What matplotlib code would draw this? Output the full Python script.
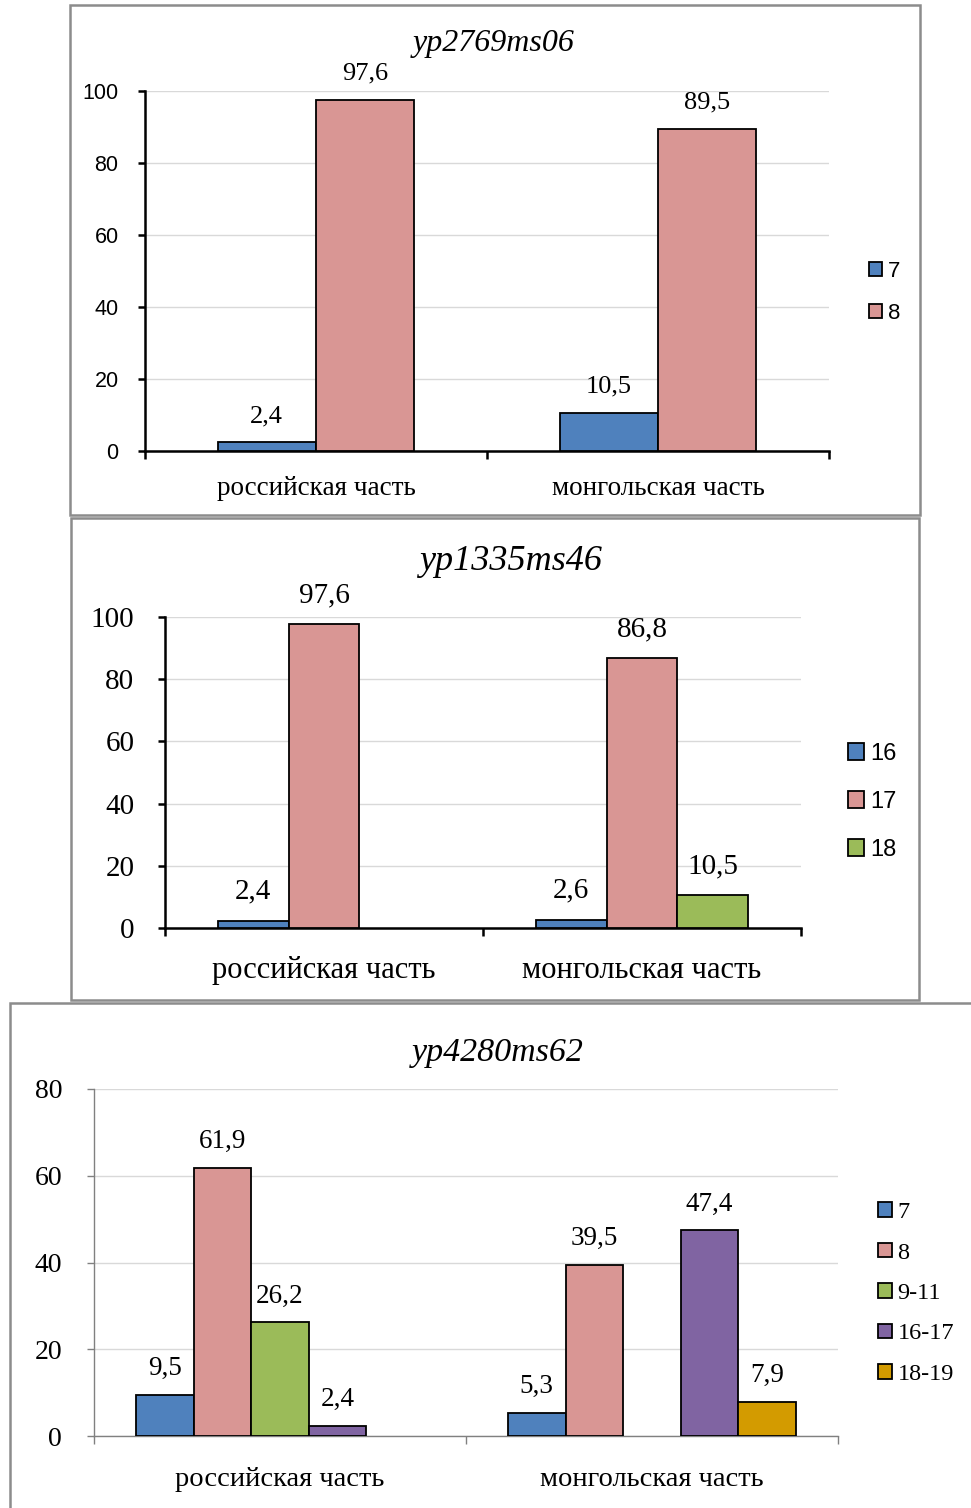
import matplotlib.pyplot as plt
import numpy as np
from matplotlib.patches import Rectangle

W, H = 971, 1508

categories = ["российская часть", "монгольская часть"]

# yp2769ms06
p1_title = "yp2769ms06"
p1_series = ["7", "8"]
p1_values = [[2.4, 10.5], [97.6, 89.5]]

# yp1335ms46
p2_title = "yp1335ms46"
p2_series = ["16", "17", "18"]
p2_values = [[2.4, 2.6], [97.6, 86.8], [np.nan, 10.5]]

# yp4280ms62
p3_title = "yp4280ms62"
p3_series = ["7", "8", "9-11", "16-17", "18-19"]
p3_values = [[9.5, 5.3], [61.9, 39.5], [26.2, np.nan], [2.4, 47.4], [np.nan, 7.9]]

colors = ["#4F81BD", "#D99694", "#9BBB59", "#8064A2", "#D39B00"]
SERIF = ["Liberation Serif", "DejaVu Serif"]
SANS = ["Liberation Sans", "DejaVu Sans"]


def box(x0, y0, x1, y1):
    # pixel box (top-left origin) -> figure coords
    return [x0 / W, 1 - y1 / H, (x1 - x0) / W, (y1 - y0) / H]


def frame(fig, x0, y0, x1, y1):
    fig.add_artist(Rectangle((x0 / W, 1 - y1 / H), (x1 - x0) / W, (y1 - y0) / H,
                             transform=fig.transFigure, fill=False,
                             edgecolor="#8c8c8c", linewidth=1.8))


def fmt(v):
    return f"{v:.1f}".replace(".", ",")


def panel(fig, rect, title, title_xy, series, values, width, ymax, step,
          tick_font, tick_size, tick_pad, val_size, val_off, cat_size, cat_pad,
          spine_color, spine_lw, leg_xy, leg_font, leg_size, leg_space, leg_handle):
    ax = fig.add_axes(box(*rect))
    n = len(series)
    x = np.arange(len(categories))
    for i, (name, vals) in enumerate(zip(series, values)):
        pos = x + (i - (n - 1) / 2) * width
        bars = ax.bar(pos, vals, width, color=colors[i], edgecolor="black",
                      linewidth=1.3, label=name, zorder=3)
        for b, v in zip(bars, vals):
            if np.isnan(v):
                continue
            ax.annotate(fmt(v), (b.get_x() + b.get_width() / 2, v),
                        xytext=(0, val_off), textcoords="offset points",
                        ha="center", va="center", fontsize=val_size,
                        family=SERIF)
    ax.set_xlim(-0.5, 1.5)
    ax.set_ylim(0, ymax)
    ax.set_yticks(np.arange(0, ymax + 1, step))
    ax.yaxis.grid(True, color="#d9d9d9", linewidth=1, zorder=0)
    ax.set_axisbelow(True)
    ax.set_xticks(x)
    ax.set_xticklabels(categories, fontsize=cat_size, family=SERIF)
    ax.set_xticks([-0.5, 0.5, 1.5], minor=True)
    ax.tick_params(axis="x", which="major", length=0, pad=cat_pad)
    ax.tick_params(axis="x", which="minor", length=6, width=spine_lw,
                   color=spine_color, direction="out")
    ax.tick_params(axis="y", length=5, width=spine_lw, color=spine_color,
                   pad=tick_pad)
    for lab in ax.get_yticklabels():
        lab.set_family(tick_font)
        lab.set_fontsize(tick_size)
    for s in ["top", "right"]:
        ax.spines[s].set_visible(False)
    for s in ["left", "bottom"]:
        ax.spines[s].set_color(spine_color)
        ax.spines[s].set_linewidth(spine_lw)
    fig.text(title_xy[0] / W, 1 - title_xy[1] / H, title, ha="center",
             va="center", fontsize=title_xy[2], family=SERIF, style="italic")
    ax.legend(loc="upper left", bbox_to_anchor=(leg_xy[0] / W, 1 - leg_xy[1] / H),
              bbox_transform=fig.transFigure, frameon=False,
              prop={"family": leg_font, "size": leg_size},
              handlelength=leg_handle, handleheight=leg_handle,
              handletextpad=0.25, labelspacing=leg_space, borderpad=0)
    return ax


fig = plt.figure(figsize=(W / 100, H / 100), dpi=100)

frame(fig, 70, 5, 920, 515)
frame(fig, 71, 518, 919, 1000)
frame(fig, 10, 1003, 1000, 1540)

panel(fig, (145, 91, 829, 451), p1_title, (494, 43, 23), p1_series, p1_values,
      0.288, 100, 20, SANS, 15.5, 14, 19, 19, 19.5, 18,
      "black", 1.8, (858, 250), SANS, 16, 0.95, 0.6)

panel(fig, (165, 617, 801, 928), p2_title, (511, 562, 26), p2_series, p2_values,
      0.223, 100, 20, SERIF, 21, 17, 21, 21, 22, 20,
      "black", 1.8, (836, 731), SANS, 17, 1.1, 0.7)

panel(fig, (94, 1089, 838, 1436), p3_title, (498, 1053, 24.5), p3_series, p3_values,
      0.155, 80, 20, SERIF, 20, 18, 19.5, 19, 20.5, 22,
      "#808080", 1.0, (866, 1190), SERIF, 17.5, 0.8, 0.55)

fig.savefig("out.png", dpi=100)
